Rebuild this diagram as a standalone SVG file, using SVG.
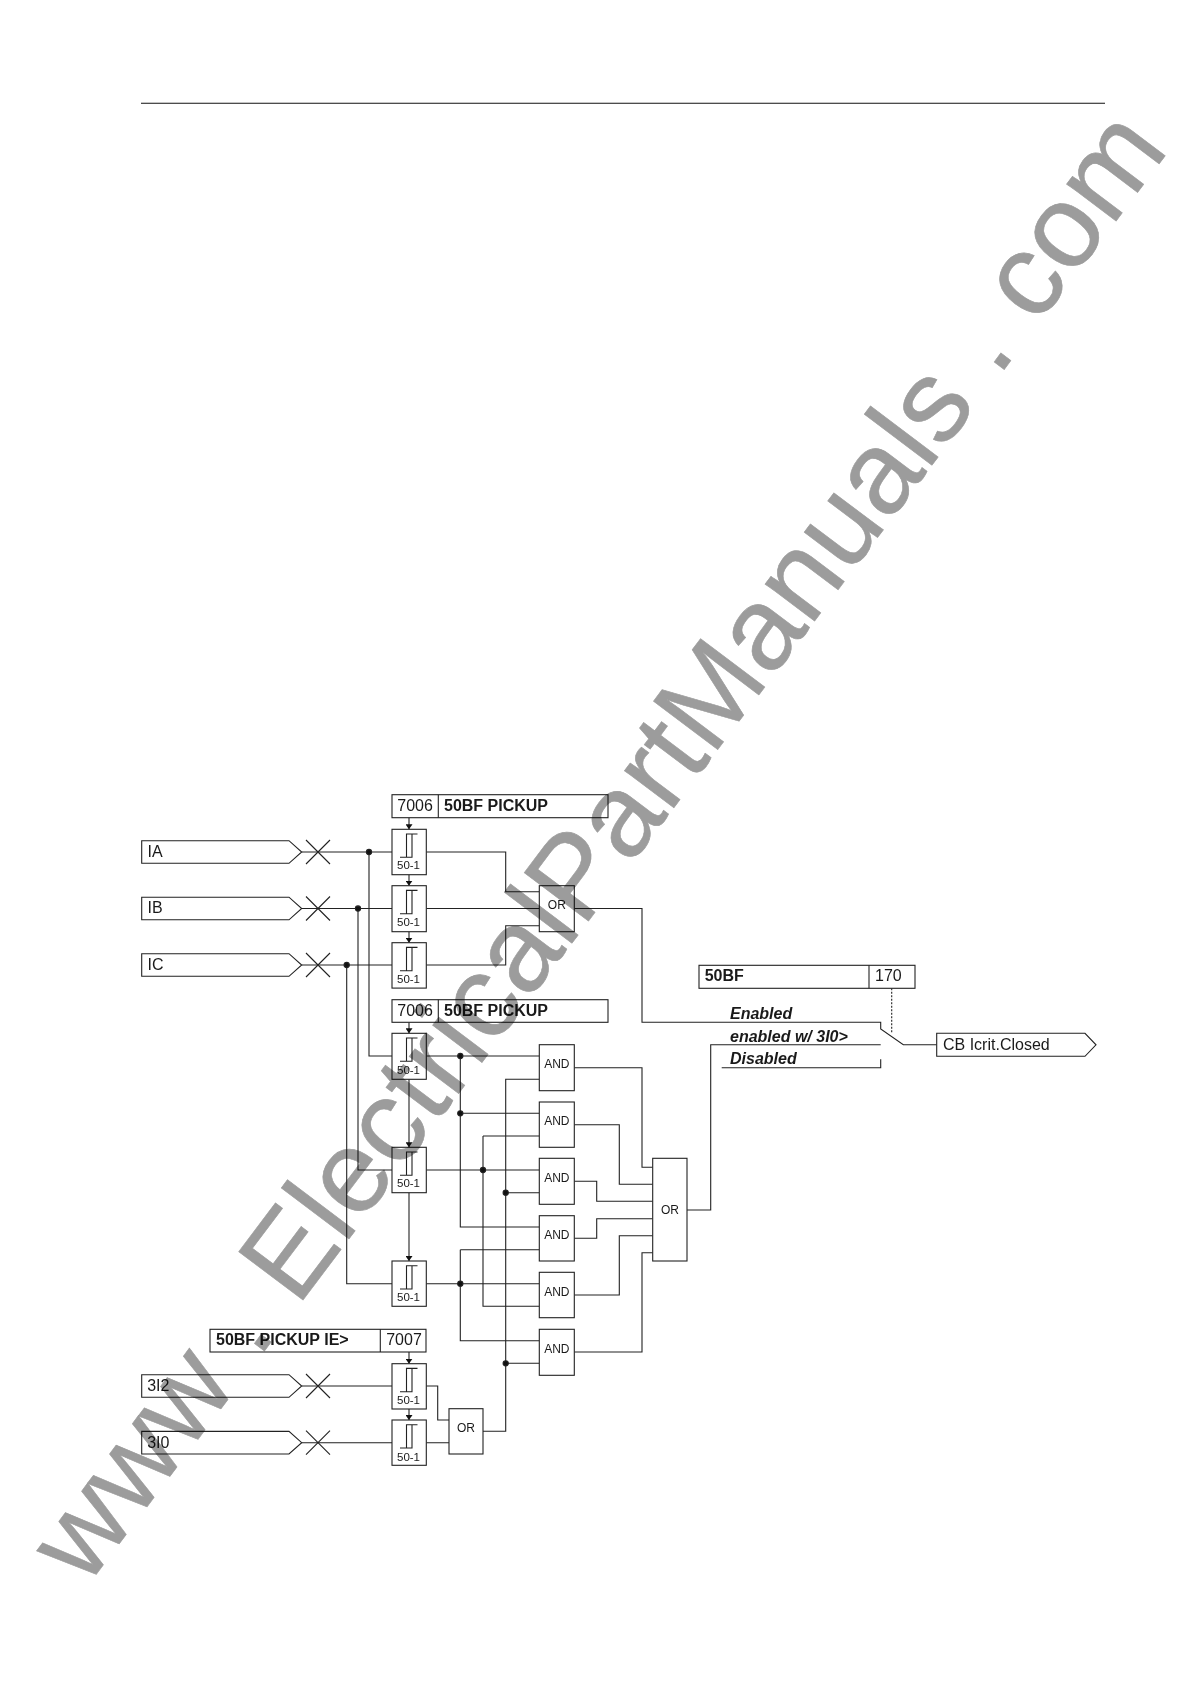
<svg xmlns="http://www.w3.org/2000/svg" width="1190" height="1684" viewBox="0 0 1190 1684">
<style>
text{font-family:"Liberation Sans",Arial,sans-serif;fill:#1a1a1a}
.b{fill:#fff;stroke:#222;stroke-width:1.1}
.l{fill:none;stroke:#222;stroke-width:1.1}
.t{font-size:16px}
.h{font-size:16px;font-weight:bold}
.i{font-size:16px;font-weight:bold;font-style:italic}
.s{font-size:11.500px;text-anchor:middle}
.g{font-size:12px;text-anchor:middle}
.wm{font-size:117px;fill:#9c9c9c;stroke:#9c9c9c;stroke-width:.6;mix-blend-mode:multiply}
</style>
<defs>
<marker id="ah" markerUnits="userSpaceOnUse" markerWidth="5" markerHeight="7" refX="5" refY="3.500" orient="auto"><path d="M0,0L5,3.500L0,7Z" fill="#111"/></marker>
<circle id="dot" r="2.600" fill="#111"/>
<path id="step" class="l" d="M-9,28H3V4.700M-2.500,28V4.700H8.500"/>
<path id="x" class="l" d="M-12,-12L12,12M-12,12L12,-12"/>
</defs>
<rect width="1190" height="1684" fill="#fff"/>
<line id="top-rule" x1="141" y1="103.300" x2="1105" y2="103.300" stroke="#111" stroke-width="1.100"/>

<g id="connectors" class="l">
<path d="M301.700,852H392M369,852V1056H392"/>
<path d="M301.700,908.500H392M358,908.500V1170H392"/>
<path d="M301.700,965H392M346.700,965V1283.700H392"/>
<path d="M301.700,1386H392M301.700,1442.700H392"/>
<path d="M426.300,852H505.700V891.700H539.300M426.300,908.500H539.300M426.300,965H505.700V925.700H539.300"/>
<path d="M574.300,908.500H642V1022.300H880.700V1029L903.300,1044.700H936.700"/>
<path d="M687,1210H710.700V1044.700H880.700"/>
<path d="M721.700,1067.700H880.700V1059.300"/>
<path d="M891.700,988.300V1033" stroke-dasharray="2 1.500"/>
<path d="M426.300,1056H539.300M460.300,1056V1227H539.300M460.300,1113.300H539.300"/>
<path d="M426.300,1170H539.300M483,1136H539.300M483,1136V1306.300H539.300"/>
<path d="M426.300,1283.700H539.300M460.300,1249.700H539.300M460.300,1249.700V1340.700H539.300"/>
<path d="M539.300,1079.300H505.700V1431.300H483M505.700,1192.700H539.300M505.700,1363.300H539.300"/>
<path d="M574.300,1067.700H642V1167.300H652.700M574.300,1124.700H619.300V1184.300H652.700M574.300,1181.300H596.700V1201.300H652.700M574.300,1238.300H596.700V1218.700H652.700M574.300,1295H619.300V1235.700H652.700M574.300,1352H642V1252.700H652.700"/>
<path d="M426.300,1386H437.700V1420H449M426.300,1442.700H449"/>
<g marker-end="url(#ah)">
<line x1="409" y1="817.700" x2="409" y2="829.300"/>
<line x1="409" y1="874.700" x2="409" y2="885.700"/>
<line x1="409" y1="931.700" x2="409" y2="942.700"/>
<line x1="409" y1="1022.300" x2="409" y2="1033.300"/>
<line x1="409" y1="1079.300" x2="409" y2="1147.300"/>
<line x1="409" y1="1192.700" x2="409" y2="1261"/>
<line x1="409" y1="1352" x2="409" y2="1363.700"/>
<line x1="409" y1="1409" x2="409" y2="1420"/>
</g>
<use href="#dot" x="369" y="852"/><use href="#dot" x="358" y="908.500"/><use href="#dot" x="346.700" y="965"/>
<use href="#dot" x="460.300" y="1056"/><use href="#dot" x="460.300" y="1113.300"/><use href="#dot" x="483" y="1170"/>
<use href="#dot" x="505.700" y="1192.700"/><use href="#dot" x="460.300" y="1283.700"/><use href="#dot" x="505.700" y="1363.300"/>
<use href="#x" x="318" y="852"/><use href="#x" x="318" y="908.500"/><use href="#x" x="318" y="965"/><use href="#x" x="318" y="1386"/><use href="#x" x="318" y="1442.700"/>
</g>

<g id="in-IA"><path class="b" d="M141.700,840.700H289L301.700,852L289,863.300H141.700Z"/><text class="t" x="147.500" y="856.700">IA</text></g>
<g id="in-IB"><path class="b" d="M141.700,897.200H289L301.700,908.500L289,919.800H141.700Z"/><text class="t" x="147.500" y="913.200">IB</text></g>
<g id="in-IC"><path class="b" d="M141.700,953.700H289L301.700,965L289,976.300H141.700Z"/><text class="t" x="147.500" y="969.700">IC</text></g>
<g id="in-3I2"><path class="b" d="M141.700,1374.700H289L301.700,1386L289,1397.300H141.700Z"/><text class="t" x="147.200" y="1390.700">3I2</text></g>
<g id="in-3I0"><path class="b" d="M141.700,1431.400H289L301.700,1442.700L289,1454H141.700Z"/><text class="t" x="147.200" y="1447.500">3I0</text></g>

<g id="hdr-7006a"><rect class="b" x="392" y="794.700" width="216" height="23"/><line class="l" x1="438.300" y1="794.700" x2="438.300" y2="817.700"/><text class="t" x="397.300" y="810.800">7006</text><text class="h" x="444" y="810.800">50BF PICKUP</text></g>
<g id="hdr-7006b"><rect class="b" x="392" y="999.700" width="216" height="22.600"/><line class="l" x1="438.300" y1="999.700" x2="438.300" y2="1022.300"/><text class="t" x="397.300" y="1015.700">7006</text><text class="h" x="444" y="1015.700">50BF PICKUP</text></g>
<g id="hdr-7007"><rect class="b" x="210" y="1329.300" width="216" height="22.700"/><line class="l" x1="380.300" y1="1329.300" x2="380.300" y2="1352"/><text class="h" x="216" y="1345.200">50BF PICKUP IE&gt;</text><text class="t" x="386.200" y="1345.200">7007</text></g>

<g id="t1"><rect class="b" x="392" y="829.300" width="34.300" height="45.400"/><use href="#step" x="409" y="829.300"/><text class="s" x="408.500" y="869.300">50-1</text></g>
<g id="t2"><rect class="b" x="392" y="885.700" width="34.300" height="46"/><use href="#step" x="409" y="885.700"/><text class="s" x="408.500" y="926">50-1</text></g>
<g id="t3"><rect class="b" x="392" y="942.700" width="34.300" height="45.400"/><use href="#step" x="409" y="942.700"/><text class="s" x="408.500" y="982.700">50-1</text></g>
<g id="t4"><rect class="b" x="392" y="1033.300" width="34.300" height="46"/><use href="#step" x="409" y="1033.300"/><text class="s" x="408.500" y="1074">50-1</text></g>
<g id="t5"><rect class="b" x="392" y="1147.300" width="34.300" height="45.400"/><use href="#step" x="409" y="1147.300"/><text class="s" x="408.500" y="1187.300">50-1</text></g>
<g id="t6"><rect class="b" x="392" y="1261" width="34.300" height="45.300"/><use href="#step" x="409" y="1261"/><text class="s" x="408.500" y="1301">50-1</text></g>
<g id="t7"><rect class="b" x="392" y="1363.700" width="34.300" height="45.300"/><use href="#step" x="409" y="1363.700"/><text class="s" x="408.500" y="1404">50-1</text></g>
<g id="t8"><rect class="b" x="392" y="1420" width="34.300" height="45.300"/><use href="#step" x="409" y="1420"/><text class="s" x="408.500" y="1460.500">50-1</text></g>

<g id="or1"><rect class="b" x="539.300" y="885.700" width="35" height="46"/><text class="g" x="556.800" y="909">OR</text></g>
<g id="or2"><rect class="b" x="449" y="1408.700" width="34" height="45.300"/><text class="g" x="466" y="1432">OR</text></g>
<g id="or3"><rect class="b" x="652.700" y="1158.300" width="34.300" height="102.700"/><text class="g" x="670" y="1214">OR</text></g>
<g id="and1"><rect class="b" x="539.300" y="1044.700" width="35" height="46"/><text class="g" x="556.800" y="1068">AND</text></g>
<g id="and2"><rect class="b" x="539.300" y="1102" width="35" height="45.300"/><text class="g" x="556.800" y="1125">AND</text></g>
<g id="and3"><rect class="b" x="539.300" y="1158.300" width="35" height="46"/><text class="g" x="556.800" y="1182">AND</text></g>
<g id="and4"><rect class="b" x="539.300" y="1215.700" width="35" height="45.300"/><text class="g" x="556.800" y="1238.700">AND</text></g>
<g id="and5"><rect class="b" x="539.300" y="1272.300" width="35" height="45.400"/><text class="g" x="556.800" y="1295.500">AND</text></g>
<g id="and6"><rect class="b" x="539.300" y="1329.300" width="35" height="46"/><text class="g" x="556.800" y="1352.500">AND</text></g>

<g id="setting-50BF"><rect class="b" x="699" y="965.300" width="216" height="23"/><line class="l" x1="869" y1="965.300" x2="869" y2="988.300"/><text class="h" x="704.700" y="981.300">50BF</text><text class="t" x="875" y="981.300">170</text></g>
<g id="switch-labels"><text class="i" x="730" y="1019">Enabled</text><text class="i" x="730" y="1041.700">enabled w/ 3I0&gt;</text><text class="i" x="730" y="1064">Disabled</text></g>
<g id="out-CB"><path class="b" d="M936.700,1033.300H1085L1096,1044.800L1085,1056.300H936.700Z"/><text class="t" x="943" y="1050">CB Icrit.Closed</text></g>

<text class="wm" x="0" y="0" transform="translate(86 1588) rotate(-53)">www . ElectricalPartManuals . com</text>
</svg>
